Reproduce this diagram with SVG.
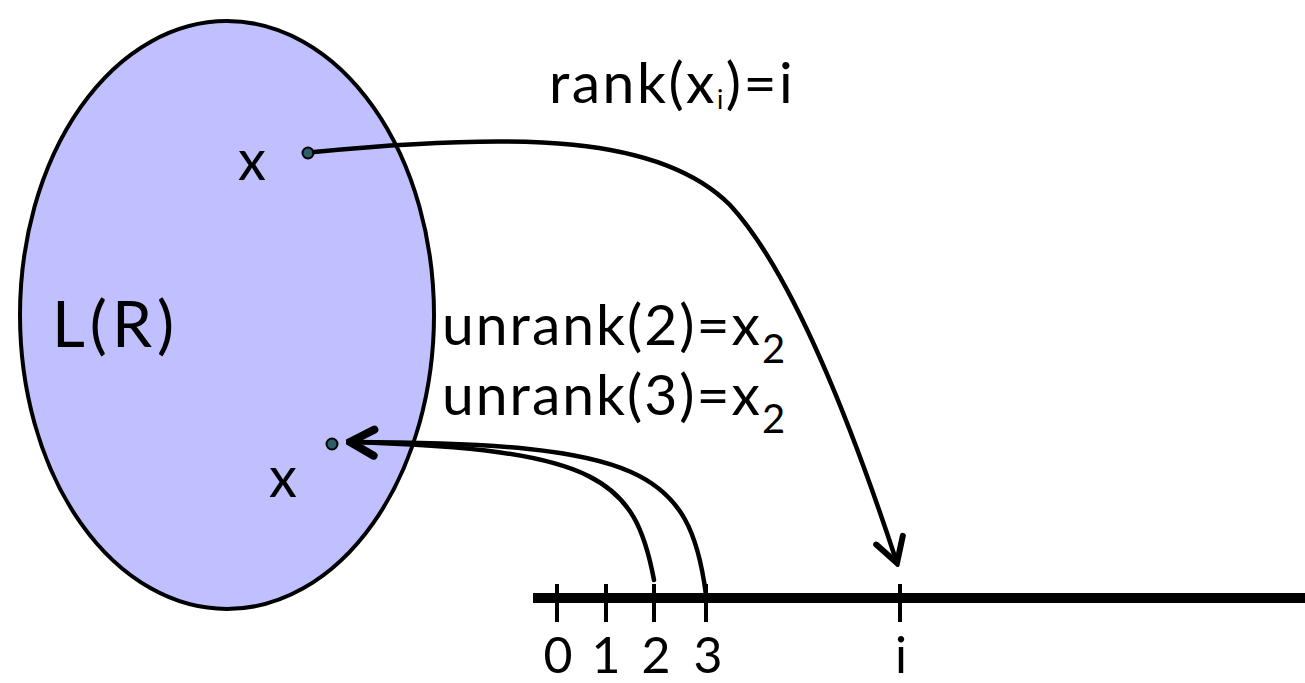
<svg xmlns="http://www.w3.org/2000/svg" width="1305" height="683" viewBox="0 0 1305 683">
<style>
.t{font-family:"Lato","Open Sans","Liberation Sans",sans-serif;fill:#000}
.c{fill:none;stroke:#000;stroke-width:4.5;stroke-linecap:round}
.dot{fill:#2f5f66;stroke:#000;stroke-width:2}
.tick{stroke:#000;stroke-width:4}
</style>
<defs>
<marker id="ah" markerUnits="userSpaceOnUse" viewBox="-30 -20 34 40" refX="0" refY="0" markerWidth="34" markerHeight="40" orient="auto">
<path d="M-24,-14 L0,0 L-24,14" fill="none" stroke="#000" stroke-width="6" stroke-linecap="round" stroke-linejoin="miter"/>
</marker>
<marker id="ah2" markerUnits="userSpaceOnUse" viewBox="-30 -20 34 40" refX="0" refY="0" markerWidth="34" markerHeight="40" orient="auto">
<path d="M-24,-13 L0,0 L-24,13" fill="none" stroke="#000" stroke-width="8" stroke-linecap="round" stroke-linejoin="miter"/>
</marker>
</defs>
<g id="set">
<ellipse cx="227" cy="315" rx="207" ry="294" fill="#c0c0ff" stroke="#000" stroke-width="4"/>
<text class="t" x="52" y="347" font-size="64" letter-spacing="5">L(R)</text>
</g>
<g id="x1">
<text class="t" x="238" y="180" font-size="56">x</text>
<circle class="dot" cx="308" cy="153" r="5.5"/>
</g>
<g id="x2">
<text class="t" x="269" y="497" font-size="56">x</text>
<circle class="dot" cx="332" cy="444" r="5.5"/>
</g>
<g id="line">
<line x1="533" y1="598" x2="1305" y2="598" stroke="#000" stroke-width="10"/>
<line class="tick" x1="557" y1="584" x2="557" y2="622"/>
<line class="tick" x1="606" y1="584" x2="606" y2="622"/>
<line class="tick" x1="654" y1="584" x2="654" y2="622"/>
<line class="tick" x1="706" y1="584" x2="706" y2="622"/>
<line class="tick" x1="900" y1="584" x2="900" y2="622"/>
<g class="t" font-size="50" text-anchor="middle">
<text x="558" y="673">0</text>
<text x="606" y="673">1</text>
<text x="656" y="673">2</text>
<text x="708" y="673">3</text>
<text x="901" y="673">i</text>
</g>
</g>
<g id="labels" class="t" font-size="57">
<text x="549" y="103" letter-spacing="2.5">rank(x<tspan font-size="26" dy="6">i</tspan><tspan dy="-6">)=i</tspan></text>
<text x="442" y="345" letter-spacing="2">unrank(2)=x<tspan font-size="40" dy="18">2</tspan></text>
<text x="442" y="415" letter-spacing="2">unrank(3)=x<tspan font-size="40" dy="18">2</tspan></text>
</g>
<g id="connectors">
<path class="c" d="M314,152 C520,132 660,135 730,205 C790,270 850,420 897,563" marker-end="url(#ah)"/>
<path class="c" d="M706,595 C690,470 640,443 352,442" stroke-width="5"/>
<path class="c" d="M654,580 C635,480 600,449 350,442" stroke-width="5.5" marker-end="url(#ah2)"/>
</g>
</svg>
